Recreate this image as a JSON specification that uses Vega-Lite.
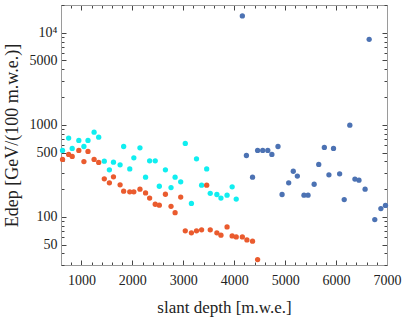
{
  "$schema": "https://vega.github.io/schema/vega-lite/v6.json",
  "width": 326,
  "height": 260,
  "autosize": "none",
  "padding": {"left": 61, "top": 5, "right": 20, "bottom": 52},
  "background": "white",
  "config": {
    "view": {"stroke": "#9a9a9a", "strokeWidth": 1},
    "font": "Liberation Serif",
    "axis": {
      "grid": false,
      "domainColor": "#9a9a9a",
      "tickColor": "#444444",
      "labelColor": "#222222",
      "titleColor": "#222222",
      "labelFont": "Liberation Serif",
      "titleFont": "Liberation Serif",
      "titleFontWeight": "normal",
      "labelFlush": false,
      "labelOverlap": false
    }
  },
  "data": {
    "values": [
      {"series": "cyan", "depth": 630, "edep": 526},
      {"series": "cyan", "depth": 750, "edep": 717},
      {"series": "cyan", "depth": 820, "edep": 553},
      {"series": "cyan", "depth": 950, "edep": 676},
      {"series": "cyan", "depth": 1050, "edep": 581},
      {"series": "cyan", "depth": 1130, "edep": 676},
      {"series": "cyan", "depth": 1250, "edep": 832},
      {"series": "cyan", "depth": 1340, "edep": 734},
      {"series": "cyan", "depth": 1450, "edep": 403},
      {"series": "cyan", "depth": 1550, "edep": 324},
      {"series": "cyan", "depth": 1630, "edep": 393},
      {"series": "cyan", "depth": 1760, "edep": 367},
      {"series": "cyan", "depth": 1830, "edep": 581},
      {"series": "cyan", "depth": 1950, "edep": 332},
      {"series": "cyan", "depth": 2030, "edep": 438},
      {"series": "cyan", "depth": 2150, "edep": 562},
      {"series": "cyan", "depth": 2260, "edep": 270},
      {"series": "cyan", "depth": 2340, "edep": 406},
      {"series": "cyan", "depth": 2450, "edep": 406},
      {"series": "cyan", "depth": 2530, "edep": 215},
      {"series": "cyan", "depth": 2650, "edep": 324},
      {"series": "cyan", "depth": 2760, "edep": 208},
      {"series": "cyan", "depth": 2840, "edep": 270},
      {"series": "cyan", "depth": 2950, "edep": 240},
      {"series": "cyan", "depth": 3040, "edep": 627},
      {"series": "cyan", "depth": 3160, "edep": 140},
      {"series": "cyan", "depth": 3260, "edep": 427},
      {"series": "cyan", "depth": 3360, "edep": 221},
      {"series": "cyan", "depth": 3460, "edep": 332},
      {"series": "cyan", "depth": 3530, "edep": 180},
      {"series": "cyan", "depth": 3660, "edep": 175},
      {"series": "cyan", "depth": 3740, "edep": 160},
      {"series": "cyan", "depth": 3860, "edep": 172},
      {"series": "cyan", "depth": 3960, "edep": 212},
      {"series": "cyan", "depth": 4040, "edep": 156},
      {"series": "orange", "depth": 630, "edep": 420},
      {"series": "orange", "depth": 750, "edep": 476},
      {"series": "orange", "depth": 820, "edep": 453},
      {"series": "orange", "depth": 950, "edep": 526},
      {"series": "orange", "depth": 1050, "edep": 399},
      {"series": "orange", "depth": 1130, "edep": 513},
      {"series": "orange", "depth": 1250, "edep": 420},
      {"series": "orange", "depth": 1340, "edep": 390},
      {"series": "orange", "depth": 1450, "edep": 259},
      {"series": "orange", "depth": 1550, "edep": 234},
      {"series": "orange", "depth": 1630, "edep": 272},
      {"series": "orange", "depth": 1760, "edep": 223},
      {"series": "orange", "depth": 1830, "edep": 190},
      {"series": "orange", "depth": 1950, "edep": 187},
      {"series": "orange", "depth": 2030, "edep": 187},
      {"series": "orange", "depth": 2150, "edep": 200},
      {"series": "orange", "depth": 2260, "edep": 182},
      {"series": "orange", "depth": 2340, "edep": 160},
      {"series": "orange", "depth": 2450, "edep": 137},
      {"series": "orange", "depth": 2530, "edep": 134},
      {"series": "orange", "depth": 2650, "edep": 176},
      {"series": "orange", "depth": 2760, "edep": 130},
      {"series": "orange", "depth": 2840, "edep": 111},
      {"series": "orange", "depth": 2950, "edep": 164},
      {"series": "orange", "depth": 3040, "edep": 70.5},
      {"series": "orange", "depth": 3160, "edep": 67},
      {"series": "orange", "depth": 3260, "edep": 70.5},
      {"series": "orange", "depth": 3360, "edep": 72.3},
      {"series": "orange", "depth": 3460, "edep": 221},
      {"series": "orange", "depth": 3530, "edep": 72.3},
      {"series": "orange", "depth": 3660, "edep": 67},
      {"series": "orange", "depth": 3740, "edep": 63.2},
      {"series": "orange", "depth": 3860, "edep": 77.8},
      {"series": "orange", "depth": 3960, "edep": 62.1},
      {"series": "orange", "depth": 4040, "edep": 60.6},
      {"series": "orange", "depth": 4160, "edep": 60.6},
      {"series": "orange", "depth": 4250, "edep": 56.2},
      {"series": "orange", "depth": 4360, "edep": 54.4},
      {"series": "orange", "depth": 4460, "edep": 34.4},
      {"series": "blue", "depth": 4160, "edep": 15200},
      {"series": "blue", "depth": 4240, "edep": 464},
      {"series": "blue", "depth": 4360, "edep": 270},
      {"series": "blue", "depth": 4460, "edep": 526},
      {"series": "blue", "depth": 4560, "edep": 526},
      {"series": "blue", "depth": 4660, "edep": 526},
      {"series": "blue", "depth": 4740, "edep": 476},
      {"series": "blue", "depth": 4860, "edep": 581},
      {"series": "blue", "depth": 4940, "edep": 175},
      {"series": "blue", "depth": 5070, "edep": 234},
      {"series": "blue", "depth": 5160, "edep": 313},
      {"series": "blue", "depth": 5240, "edep": 277},
      {"series": "blue", "depth": 5370, "edep": 172},
      {"series": "blue", "depth": 5450, "edep": 172},
      {"series": "blue", "depth": 5570, "edep": 226},
      {"series": "blue", "depth": 5660, "edep": 371},
      {"series": "blue", "depth": 5770, "edep": 568},
      {"series": "blue", "depth": 5860, "edep": 286},
      {"series": "blue", "depth": 5950, "edep": 553},
      {"series": "blue", "depth": 6070, "edep": 293},
      {"series": "blue", "depth": 6160, "edep": 154},
      {"series": "blue", "depth": 6270, "edep": 991},
      {"series": "blue", "depth": 6370, "edep": 257},
      {"series": "blue", "depth": 6450, "edep": 250},
      {"series": "blue", "depth": 6570, "edep": 200},
      {"series": "blue", "depth": 6650, "edep": 8470},
      {"series": "blue", "depth": 6760, "edep": 93.5},
      {"series": "blue", "depth": 6880, "edep": 123},
      {"series": "blue", "depth": 6970, "edep": 133}
    ]
  },
  "layer": [
    {
      "mark": {"type": "circle", "size": 28, "opacity": 1},
      "encoding": {
        "x": {
          "field": "depth", "type": "quantitative",
          "scale": {"domain": [600, 7000], "nice": false, "zero": false},
          "axis": {
            "orient": "bottom",
            "title": "slant depth [m.w.e.]",
            "values": [600,800,1000,1200,1400,1600,1800,2000,2200,2400,2600,2800,3000,3200,3400,3600,3800,4000,4200,4400,4600,4800,5000,5200,5400,5600,5800,6000,6200,6400,6600,6800,7000],
            "labelExpr": "datum.value % 1000 === 0 ? format(datum.value, 'd') : ''",
            "tickSize": {"condition": {"test": "datum.value % 1000 === 0", "value": -5}, "value": -3},
            "labelFontSize": 14,
            "titleFontSize": 17,
            "labelPadding": 13,
            "titlePadding": 10
          }
        },
        "y": {
          "field": "edep", "type": "quantitative",
          "scale": {"type": "log", "domain": [30, 20000], "nice": false},
          "axis": {
            "orient": "left",
            "title": "Edep [GeV/(100 m.w.e.)]",
            "values": [30,40,50,60,70,80,90,100,200,300,400,500,600,700,800,900,1000,2000,3000,4000,5000,6000,7000,8000,9000,10000,20000],
            "labelExpr": "datum.value == 10000 ? '10⁴' : (indexof([50,100,500,1000,5000], datum.value) >= 0 ? format(datum.value, 'd') : '')",
            "tickSize": {"condition": {"test": "indexof([50,100,500,1000,5000,10000], datum.value) >= 0", "value": -5}, "value": -3},
            "labelFontSize": 14,
            "titleFontSize": 18,
            "labelPadding": 9,
            "titlePadding": 8
          }
        },
        "color": {
          "field": "series", "type": "nominal",
          "scale": {"domain": ["cyan", "orange", "blue"], "range": ["#10EEF0", "#EA5B2E", "#4C72B3"]},
          "legend": null
        }
      }
    },
    {
      "mark": {"type": "circle", "size": 28, "opacity": 0},
      "encoding": {
        "x": {
          "field": "depth", "type": "quantitative",
          "axis": {
            "orient": "top",
            "title": null,
            "labels": false,
            "values": [600,800,1000,1200,1400,1600,1800,2000,2200,2400,2600,2800,3000,3200,3400,3600,3800,4000,4200,4400,4600,4800,5000,5200,5400,5600,5800,6000,6200,6400,6600,6800,7000],
            "tickSize": {"condition": {"test": "datum.value % 1000 === 0", "value": -5}, "value": -3}
          }
        },
        "y": {
          "field": "edep", "type": "quantitative",
          "axis": {
            "orient": "right",
            "title": null,
            "labels": false,
            "values": [30,40,50,60,70,80,90,100,200,300,400,500,600,700,800,900,1000,2000,3000,4000,5000,6000,7000,8000,9000,10000,20000],
            "tickSize": {"condition": {"test": "indexof([50,100,500,1000,5000,10000], datum.value) >= 0", "value": -5}, "value": -3}
          }
        }
      }
    }
  ],
  "resolve": {"axis": {"x": "independent", "y": "independent"}}
}
